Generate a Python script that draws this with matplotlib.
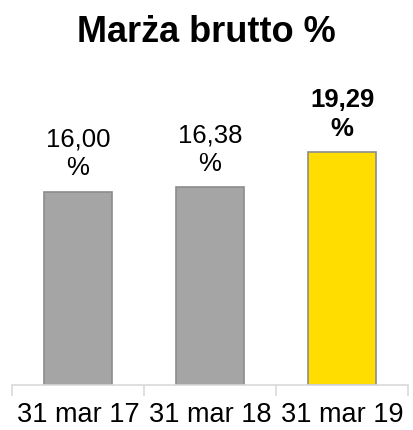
import matplotlib
matplotlib.use("Agg")
import matplotlib.pyplot as plt

plt.rcParams['font.family'] = ['Liberation Sans', 'DejaVu Sans']

categories = ["31 mar 17", "31 mar 18", "31 mar 19"]
values = [16.00, 16.38, 19.29]
labels = ["16,00\n%", "16,38\n%", "19,29\n%"]
colors = ["#A5A5A5", "#A5A5A5", "#FFDD00"]

fig = plt.figure(figsize=(4.13, 4.30), dpi=100)
ax = fig.add_axes([12 / 413, 45 / 430, 396 / 413, 266 / 430])

x = range(len(categories))
ax.bar(x, values, width=0.51, color=colors, edgecolor="#8C8C8C", linewidth=1.2, zorder=2)

for i, (v, lab) in enumerate(zip(values, labels)):
    bold = i == len(values) - 1
    ax.annotate(lab, (i, v), xytext=(0, 8), textcoords="offset points",
                ha="center", va="bottom", fontsize=18.5,
                fontweight="bold" if bold else "normal", linespacing=1.25,
                annotation_clip=False)

ax.set_xlim(-0.5, 2.5)
ax.set_ylim(0, 22)
ax.set_yticks([])
for s in ["left", "right", "top"]:
    ax.spines[s].set_visible(False)
ax.spines["bottom"].set_color("#D9D9D9")
ax.spines["bottom"].set_linewidth(1.2)

ax.set_xticks([-0.5, 0.5, 1.5, 2.5])
ax.set_xticklabels([])
ax.tick_params(axis="x", length=8, color="#D9D9D9", width=1.2, direction="out")
ax.set_xticks(list(x), minor=True)
ax.set_xticklabels(categories, minor=True, fontsize=19.5)
ax.tick_params(axis="x", which="minor", length=0, pad=12)

fig.text(0.5, 1 - 32 / 430, "Marża brutto %", ha="center", va="center",
         fontsize=26, fontweight="bold")

plt.savefig("out.png", dpi=100)
